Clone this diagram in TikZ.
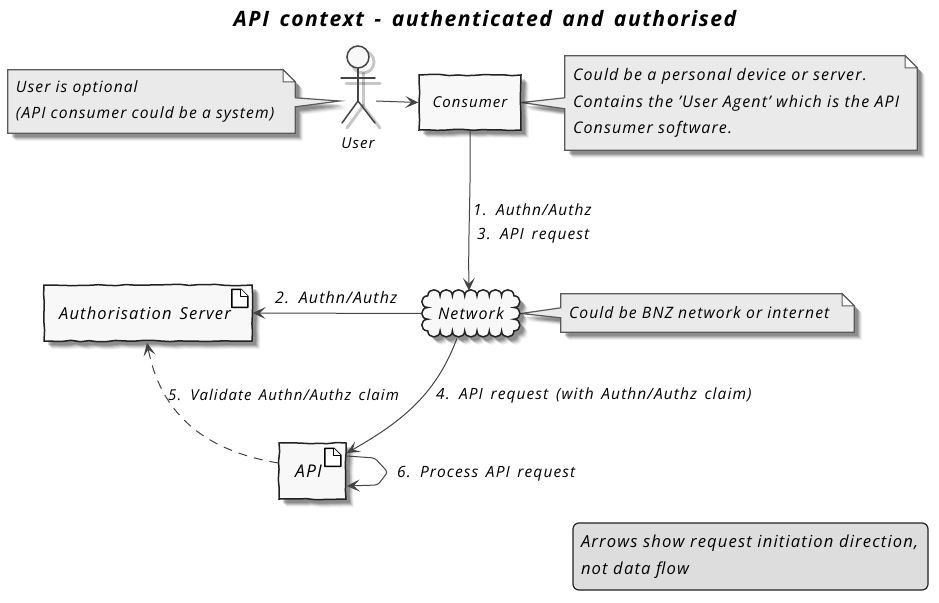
\documentclass[tikz,border=0pt]{standalone}
\usepackage{fontspec}
\setmainfont[WordSpace=1.5,LetterSpace=7]{Open Sans}
\usetikzlibrary{arrows.meta,decorations.pathmorphing,shadows,backgrounds}
\definecolor{inkc}{HTML}{222222}
\definecolor{linec}{HTML}{444444}
\definecolor{notec}{HTML}{EAEAEA}
\definecolor{notel}{HTML}{5A5A5A}
\definecolor{boxc}{HTML}{F8F8F8}
\definecolor{legc}{HTML}{DDDDDD}
\tikzset{
  softshadow/.style={
    general shadow={shadow xshift=8pt,shadow yshift=-8pt,fill=black,opacity=.05},
    general shadow={shadow xshift=7pt,shadow yshift=-7pt,fill=black,opacity=.08},
    general shadow={shadow xshift=6pt,shadow yshift=-6pt,fill=black,opacity=.12},
    general shadow={shadow xshift=5pt,shadow yshift=-5pt,fill=black,opacity=.14},
    general shadow={shadow xshift=4pt,shadow yshift=-4pt,fill=black,opacity=.16}},
  wob/.style={decorate,decoration={random steps,segment length=9pt,amplitude=.7pt}},
  txt/.style={font=\fontsize{#1}{27}\selectfont\itshape,text=black,inner sep=0pt},
  txt/.default=15.5,
  boxnode/.style={draw=inkc,line width=1.5pt,fill=boxc,softshadow,wob,inner sep=0pt,font=\fontsize{15}{27}\selectfont\itshape},
  noteshape/.style={draw=notel,line width=1.2pt,fill=notec,softshadow,line join=miter},
  notebody/.style={inner sep=0pt,font=\fontsize{#1}{26.5}\selectfont\itshape,align=left,anchor=center},
  fold/.style={draw=notel,line width=1pt,fill=white},
  conn/.style={draw=linec,line width=1pt,-{Stealth[length=13pt,width=12pt,inset=6pt]}},
  docicon/.style={draw=black,line width=1.5pt,fill=white,line join=round},
  actorline/.style={draw=linec,line width=1.5pt,line cap=round},
  actorshade/.style={draw=black,opacity=.22,line width=3pt,line cap=round}
}
\begin{document}
\begin{tikzpicture}[x=1pt,y=-1pt]
\pgfmathsetseed{7}
\useasboundingbox (0,0) rectangle (939,602);

% title
\node[font=\fontsize{21.2}{25}\selectfont\itshape\bfseries,inner sep=0pt] (title) at (485,19) {API context - authenticated and authorised};

% main nodes
\node[boxnode,minimum width=102pt,minimum height=55pt] (consumer) at (470,102.5) {Consumer};
\node[boxnode,minimum width=208pt,minimum height=56pt,font=\fontsize{16.5}{27}\selectfont\itshape,text depth=0pt] (authserver) at (148,313) {\hspace*{-6pt}Authorisation Server};
\node[boxnode,minimum width=67pt,minimum height=56pt,font=\fontsize{17.5}{27}\selectfont\itshape] (api) at (312.5,471) {\hspace*{-8pt}API};
\node[inner sep=0pt,minimum width=100pt,minimum height=49pt,font=\fontsize{16}{27}\selectfont\itshape] (network) at (471,313.5) {Network};
\node[inner sep=0pt,minimum width=36pt,minimum height=50pt] (user) at (358,101) {};
\node[txt=15] (userlabel) at (358,143) {User};

% notes (text)
\node[notebody=15.6,text width=271pt,minimum height=63pt] (note1) at (151.5,101.5) {User is optional\\(API consumer could be a system)};
\node[notebody=16,text width=336pt,minimum height=94pt] (note2) at (741,103) {Could be a personal device or server.\\Contains the 'User Agent' which is the API\\Consumer software.};
\node[notebody=15.7,text width=277pt,minimum height=38pt] (note3) at (707.5,313) {Could be BNZ network or internet};
\node[notebody=16.6,font=\fontsize{16.6}{27}\selectfont\itshape,text width=339pt,minimum height=67pt,draw=inkc,line width=1.2pt,fill=legc,rounded corners=6pt,inner xsep=8pt] (legend) at (750.5,556.5) {Arrows show request initiation direction,\\not data flow};

\begin{pgfonlayer}{background}
  % note 1
  \path[noteshape] ([xshift=-8pt]note1.north west) -- ([xshift=-4pt]note1.north east) -- ([xshift=8pt,yshift=-12pt]note1.north east) -- ([xshift=8pt,yshift=-28pt]note1.north east) -- (user.west) -- ([xshift=8pt,yshift=-37pt]note1.north east) -- ([xshift=8pt]note1.south east) -- ([xshift=-8pt]note1.south west) -- cycle;
  \path[fold] ([xshift=-4pt]note1.north east) -- ([xshift=-4pt,yshift=-12pt]note1.north east) -- ([xshift=8pt,yshift=-12pt]note1.north east) -- cycle;
  % note 2
  \path[noteshape] ([xshift=-8pt]note2.north west) -- ([xshift=-4pt]note2.north east) -- ([xshift=8pt,yshift=-12pt]note2.north east) -- ([xshift=8pt]note2.south east) -- ([xshift=-8pt]note2.south west) -- ([xshift=-8pt,yshift=-53pt]note2.north west) -- (consumer.east) -- ([xshift=-8pt,yshift=-42pt]note2.north west) -- cycle;
  \path[fold] ([xshift=-4pt]note2.north east) -- ([xshift=-4pt,yshift=-12pt]note2.north east) -- ([xshift=8pt,yshift=-12pt]note2.north east) -- cycle;
  % note 3
  \path[noteshape] ([xshift=-8pt]note3.north west) -- ([xshift=-4pt]note3.north east) -- ([xshift=8pt,yshift=-12pt]note3.north east) -- ([xshift=8pt]note3.south east) -- ([xshift=-8pt]note3.south west) -- ([xshift=-8pt,yshift=-24pt]note3.north west) -- (network.east) -- ([xshift=-8pt,yshift=-14pt]note3.north west) -- cycle;
  \path[fold] ([xshift=-4pt]note3.north east) -- ([xshift=-4pt,yshift=-12pt]note3.north east) -- ([xshift=8pt,yshift=-12pt]note3.north east) -- cycle;
  % cloud
  \path[draw=inkc,line width=1.5pt,fill=boxc,softshadow]
    ([xshift=7pt,yshift=-7pt]network.north west)
    foreach \i in {1,...,7} { .. controls +(0,-8) and +(0,-8) .. ++(12.3,0) }
    foreach \i in {1,...,3} { .. controls +(8,0) and +(8,0) .. ++(0,11.7) }
    foreach \i in {1,...,7} { .. controls +(0,8) and +(0,8) .. ++(-12.3,0) }
    foreach \i in {1,...,3} { .. controls +(-8,0) and +(-8,0) .. ++(0,-11.7) }
    -- cycle;
  % actor shade
  \begin{scope}[shift={(user.center)},xshift=5pt,yshift=-5pt]
    \draw[actorshade] (0,-33) -- (0,0);
    \draw[actorshade] (-17,-23) -- (17,-23);
    \draw[actorshade] (-16,22) -- (0,0) -- (17,22);
    \draw[actorshade] (0,-44) circle (11pt);
  \end{scope}
\end{pgfonlayer}

% actor
\begin{scope}[shift={(user.center)}]
  \draw[actorline,fill=boxc] (0,-44) circle (11pt);
  \draw[actorline] (0,-33) -- (0,0);
  \draw[actorline] (-17,-23) -- (17,-23);
  \draw[actorline] (-16,22) -- (0,0) -- (17,22);
\end{scope}

% document icons
\draw[docicon] ([xshift=-21pt,yshift=-5pt]authserver.north east) -- ++(9,0) -- ++(7,7) -- ++(0,11) -- ++(-16,0) -- cycle;
\draw[docicon,line width=1pt] ([xshift=-12pt,yshift=-5pt]authserver.north east) -- ++(0,7) -- ++(7,0);
\draw[docicon] ([xshift=-22pt,yshift=-6pt]api.north east) -- ++(9,0) -- ++(7,7) -- ++(0,11) -- ++(-16,0) -- cycle;
\draw[docicon,line width=1pt] ([xshift=-13pt,yshift=-6pt]api.north east) -- ++(0,7) -- ++(7,0);

% connectors
\draw[conn] (user.east) -- (consumer.west);
\draw[conn] (consumer.south) .. controls +(1,60) and +(-1,-60) .. ([xshift=-2pt,yshift=-2pt]network.north);
\draw[conn] ([xshift=1pt]network.west) -- (authserver.east);
\draw[conn] ([xshift=-14pt]network.south) .. controls (437,392) and (405,420) .. ([yshift=18pt]api.east);
\draw[conn,dashed,dash pattern=on 9pt off 7pt] ([yshift=8pt]api.west) .. controls (200,450) and (160,410) .. ([xshift=-1pt,yshift=-1pt]authserver.south);
\draw[conn,rounded corners=3pt] ([yshift=15pt]api.east) -- ++(28,2) -- ++(13,14) -- ++(-10,13) -- ([yshift=-15pt]api.east);

% connector labels
\node[txt,anchor=west] (l1) at (473,210) {1. Authn/Authz};
\node[txt,anchor=west] (l3) at (477,236) {3. API request};
\node[txt=16,anchor=west] (l2) at (275,298) {2. Authn/Authz};
\node[txt=15,anchor=west] (l5) at (168,395) {5. Validate Authn/Authz claim};
\node[txt,anchor=west] (l4) at (436,395) {4. API request (with Authn/Authz claim)};
\node[txt,anchor=west] (l6) at (397,474) {6. Process API request};
\end{tikzpicture}
\end{document}
